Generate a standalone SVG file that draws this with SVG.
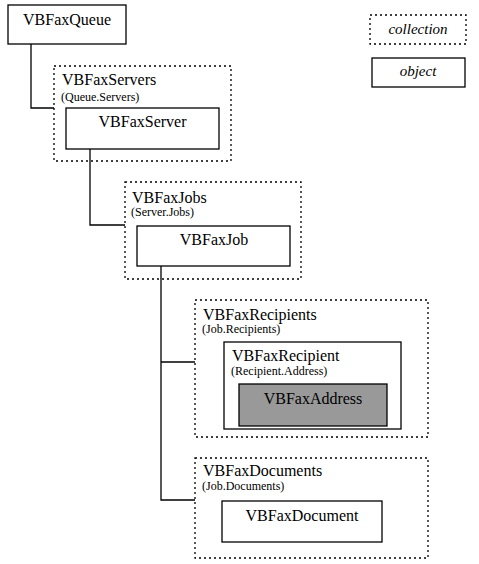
<svg xmlns="http://www.w3.org/2000/svg" width="479" height="564" viewBox="0 0 479 564">
<style>
.obj{fill:#fff;stroke:#000;stroke-width:1.3}
.col{fill:none;stroke:#000;stroke-width:1.3;stroke-dasharray:2 3}
.addr{fill:#999;stroke:#000;stroke-width:1.3}
.t{font-family:"Liberation Serif",serif;font-size:16px;fill:#000}
.s{font-family:"Liberation Serif",serif;font-size:12px;fill:#000}
.i{font-family:"Liberation Serif",serif;font-size:15px;font-style:italic;fill:#000}
.c{text-anchor:middle}
.ln{fill:none;stroke:#000;stroke-width:1.3}
</style>
<rect width="479" height="564" fill="#fff"/>
<g id="connectors">
<polyline class="ln" points="31,44 31,108 54,108"/>
<polyline class="ln" points="90,149 90,225 125,225"/>
<polyline class="ln" points="161,266 161,500 195,500"/>
<line class="ln" x1="161" y1="362" x2="195" y2="362"/>
</g>
<g id="legend">
<rect class="col" x="370" y="15" width="96" height="29"/>
<text class="i c" x="418" y="34">collection</text>
<rect class="obj" x="372" y="58" width="93" height="29"/>
<text class="i c" x="418" y="76">object</text>
</g>
<g id="VBFaxQueue">
<rect class="obj" x="8" y="5" width="118" height="39"/>
<text class="t" x="23" y="25">VBFaxQueue</text>
</g>
<g id="VBFaxServers">
<rect class="col" x="54" y="66" width="177" height="95"/>
<text class="t" x="62" y="85">VBFaxServers</text>
<text class="s" x="61" y="101">(Queue.Servers)</text>
</g>
<g id="VBFaxServer">
<rect class="obj" x="66" y="108" width="153" height="41"/>
<text class="t c" x="142.5" y="127">VBFaxServer</text>
</g>
<g id="VBFaxJobs">
<rect class="col" x="125" y="182" width="176" height="97"/>
<text class="t" x="132" y="203">VBFaxJobs</text>
<text class="s" x="131" y="216">(Server.Jobs)</text>
</g>
<g id="VBFaxJob">
<rect class="obj" x="137" y="226" width="153" height="40"/>
<text class="t c" x="214" y="245">VBFaxJob</text>
</g>
<g id="VBFaxRecipients">
<rect class="col" x="195" y="300" width="233" height="137"/>
<text class="t" x="203" y="320">VBFaxRecipients</text>
<text class="s" x="202" y="333">(Job.Recipients)</text>
</g>
<g id="VBFaxRecipient">
<rect class="obj" x="224" y="342" width="177" height="87"/>
<text class="t" x="232" y="361">VBFaxRecipient</text>
<text class="s" x="231" y="375">(Recipient.Address)</text>
</g>
<g id="VBFaxAddress">
<rect class="addr" x="239" y="384" width="148" height="42"/>
<text class="t c" x="313" y="404">VBFaxAddress</text>
</g>
<g id="VBFaxDocuments">
<rect class="col" x="195" y="458" width="233" height="100"/>
<text class="t" x="203" y="476">VBFaxDocuments</text>
<text class="s" x="202" y="490">(Job.Documents)</text>
</g>
<g id="VBFaxDocument">
<rect class="obj" x="222" y="501" width="160" height="41"/>
<text class="t c" x="302" y="521">VBFaxDocument</text>
</g>
</svg>
